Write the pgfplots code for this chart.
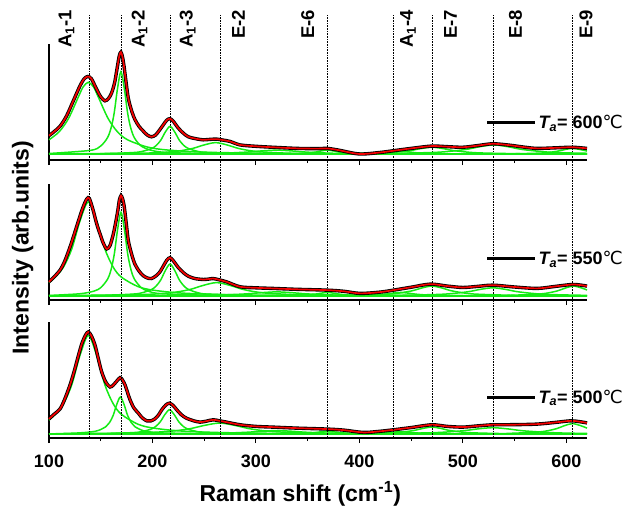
\documentclass[border=0pt]{standalone}
\usepackage{pgfplots}
\pgfplotsset{compat=1.18}
\usepackage{pgfplotstable}
\usepackage{fontspec}
\setmainfont{Liberation Sans}
\newfontfamily\symfont{DejaVu Sans}

\definecolor{fitgreen}{RGB}{20,235,20}
\definecolor{fitred}{RGB}{245,0,0}

\pgfplotsset{
  panel/.style={
    scale only axis, width=538pt, height=116pt,
    xmin=100, xmax=620, ymin=0, ymax=1,
    axis x line*=bottom, axis y line*=left,
    axis line style={line width=1.2pt},
    xtick={100,200,...,600}, minor xtick={150,250,...,550},
    ytick=\empty,
    tick align=outside,
    major tick length=5pt, minor tick length=3pt,
    xtick style={black, line width=1.1pt},
    xticklabels={},
    clip=false,
  },
  comp/.style={fitgreen, line width=1.5pt, smooth, forget plot},
  dat/.style={black, line width=3.4pt, smooth},
  fit/.style={fitred, line width=1.7pt, smooth, forget plot},
  key/.style={black, line width=3pt, forget plot},
}

% fitted curves (red)
\pgfplotstableread{
x y
100 0.21
105 0.245
110.6 0.29
117 0.38
123.5 0.51
130 0.64
134 0.70
137.5 0.72
141 0.70
146 0.61
150 0.545
154 0.51
157.5 0.53
160.6 0.58
163.5 0.67
166 0.80
168 0.90
169.5 0.93
171 0.89
172.5 0.81
174.5 0.67
176.7 0.53
180 0.42
183 0.35
187 0.29
191 0.25
195 0.215
199 0.20
203 0.215
207 0.26
211 0.31
214 0.345
217 0.356
220 0.335
225 0.275
230 0.23
234.7 0.20
241 0.185
249 0.174
256 0.178
262 0.18
268 0.172
275 0.16
284.7 0.13
300 0.118
316 0.11
340 0.10
360 0.098
369 0.10
380 0.085
400 0.052
420 0.065
433 0.08
450 0.10
470 0.12
485 0.115
500 0.11
515 0.125
529 0.14
545 0.128
560 0.11
572 0.10
590 0.105
606 0.11
620 0.10
}\fitTop

\pgfplotstableread{
x y
100 0.157
105 0.20
110.6 0.256
115 0.33
120.3 0.456
124.5 0.57
128.4 0.68
132.5 0.79
136.4 0.87
139 0.875
142.8 0.77
146 0.66
149.3 0.57
152.5 0.49
155.8 0.44
159 0.47
162.2 0.57
164.5 0.67
166.5 0.77
168 0.86
169.6 0.90
171.2 0.87
172.8 0.80
174.8 0.65
176.7 0.51
180 0.39
183 0.31
187 0.25
191 0.21
195 0.19
199 0.185
203 0.205
207 0.24
211 0.30
214 0.345
217 0.365
220 0.34
225 0.28
230 0.235
234.7 0.205
241 0.185
249 0.177
254 0.18
258.6 0.185
264 0.175
271.5 0.157
284.7 0.114
300 0.105
316 0.10
340 0.092
369 0.085
385 0.075
400.8 0.057
420 0.068
433 0.085
450 0.11
468.6 0.137
485 0.12
500 0.108
515 0.118
529 0.128
550 0.112
572 0.10
590 0.118
607 0.134
620 0.12
}\fitMid

\pgfplotstableread{
x y
100 0.165
105 0.205
110.6 0.25
115 0.33
120.3 0.457
124.5 0.58
128.4 0.71
132 0.82
135.5 0.89
138 0.914
141 0.88
144.5 0.80
147.5 0.69
150.9 0.57
155 0.48
159 0.44
162 0.455
164.5 0.48
168.7 0.52
171 0.50
173.5 0.457
176 0.39
178.3 0.33
182 0.26
186.4 0.214
190 0.175
194.5 0.148
198.5 0.148
202.5 0.166
206 0.20
209 0.243
213 0.285
216.4 0.30
220 0.28
223.5 0.243
228 0.20
233 0.17
240 0.148
246 0.137
252 0.145
258.6 0.157
265 0.148
271.5 0.137
284.7 0.114
300 0.10
316 0.094
340 0.085
369 0.077
385 0.068
404 0.048
420 0.058
433 0.071
450 0.09
470 0.114
485 0.10
500 0.094
515 0.105
529 0.114
550 0.115
572 0.12
590 0.135
604 0.148
612 0.142
620 0.13
}\fitBot

\begin{document}
\begin{tikzpicture}
\useasboundingbox (0,0) rectangle (628pt,515pt);

% ---------- bottom panel: Ta = 500 C ----------
\begin{axis}[panel, at={(49pt,77pt)}, anchor=south west,
    xticklabels={100,200,300,400,500,600},
    /pgf/number format/assume math mode=true,
    xticklabel style={font=\fontsize{18}{18}\selectfont\bfseries, yshift=-8pt},
    xlabel={Raman shift (cm\textsuperscript{-1})},
    xlabel style={font=\fontsize{23}{23}\selectfont\bfseries,
        at={(axis description cs:0.467,-0.48)}, anchor=center},
  ]
  \addplot[comp, line width=2.2pt] coordinates {(100,0.034) (620,0.034)};
  \addplot[comp] coordinates {(100,0.155) (106,0.204) (114,0.296) (122,0.459) (130,0.714) (138,0.884) (146,0.714) (154,0.459) (162,0.296) (170,0.204) (186,0.119) (202,0.084) (234,0.057) (298,0.042) (450,0.036) (620,0.035)};
  \addplot[comp] coordinates {(100,0.035) (127,0.043) (141,0.053) (148,0.066) (155,0.098) (158.5,0.133) (162,0.194) (165.5,0.29) (169,0.354) (172.5,0.29) (176,0.194) (179.5,0.133) (183,0.098) (190,0.066) (197,0.053) (211,0.043) (260,0.036)};
  \addplot[comp] coordinates {(100,0.035) (150,0.0378) (180.5,0.0463) (189.5,0.055) (198.5,0.076) (203,0.0987) (207.5,0.139) (212,0.202) (216.5,0.244) (221,0.202) (225.5,0.139) (230,0.0987) (234.5,0.076) (243.5,0.055) (252.5,0.0463) (290,0.0378)};
  \addplot[comp] coordinates {(100,0.0355) (181,0.0435) (209,0.053) (223,0.0633) (237,0.0815) (251,0.11) (265,0.129) (279,0.11) (293,0.0815) (307,0.0633) (321,0.053) (349,0.0435) (377,0.0396) (433,0.0366) (620,0.035)};
  \addplot[comp] coordinates {(200,0.0358) (260,0.04) (290,0.049) (305,0.058) (320,0.064) (335,0.058) (350,0.049) (380,0.04) (440,0.0358)};
  \addplot[comp] coordinates {(321,0.0355) (345,0.039) (357,0.0465) (363,0.054) (369,0.059) (375,0.054) (381,0.0465) (393,0.039) (417,0.0355)};
  \addplot[comp] coordinates {(380,0.0352) (410,0.038) (425,0.044) (432.5,0.05) (440,0.054) (447.5,0.05) (455,0.044) (470,0.038) (500,0.0352)};
  \addplot[comp] coordinates {(398,0.0375) (434,0.046) (452,0.064) (461,0.082) (470,0.094) (479,0.082) (488,0.064) (506,0.046) (542,0.0375)};
  \addplot[comp] coordinates {(409,0.0372) (469,0.045) (499,0.0615) (514,0.078) (529,0.089) (544,0.078) (559,0.0615) (589,0.045) (620,0.0394)};
  \addplot[comp] coordinates {(542,0.0393) (574,0.052) (590,0.079) (598,0.106) (606,0.124) (614,0.106) (620,0.085)};
  \addplot[dat, forget plot] table {\fitBot};
  \addplot[fit] table {\fitBot};
  \addplot[key] coordinates {(523.6,0.35) (570,0.35)};
  \node[anchor=base west, inner sep=0pt, font=\fontsize{18}{18}\selectfont\bfseries]
    at (axis cs:573,0.30) {\itshape T\textsubscript{a}\upshape= 500{\symfont\mdseries ℃}};
  % peak positions
  \draw[black, densely dotted, line width=0.6pt]
    (axis cs:139,0) -- (axis cs:139,3.65)
    (axis cs:170,0) -- (axis cs:170,3.65)
    (axis cs:217,0) -- (axis cs:217,3.65)
    (axis cs:266,0) -- (axis cs:266,3.65)
    (axis cs:369,0) -- (axis cs:369,3.65)
    (axis cs:433,0) -- (axis cs:433,3.65)
    (axis cs:470,0) -- (axis cs:470,3.65)
    (axis cs:529,0) -- (axis cs:529,3.65)
    (axis cs:606,0) -- (axis cs:606,3.65);
  \begin{scope}[every node/.style={rotate=90, anchor=east, inner sep=0pt,
      font=\fontsize{18.5}{18.5}\selectfont\bfseries}]
    \node at (axis cs:117,3.69) {A\textsubscript{1}-1};
    \node at (axis cs:187.5,3.69) {A\textsubscript{1}-2};
    \node at (axis cs:234,3.69) {A\textsubscript{1}-3};
    \node at (axis cs:283,3.69) {E-2};
    \node at (axis cs:350,3.69) {E-6};
    \node at (axis cs:447,3.69) {A\textsubscript{1}-4};
    \node at (axis cs:488,3.69) {E-7};
    \node at (axis cs:551,3.69) {E-8};
    \node at (axis cs:619,3.69) {E-9};
  \end{scope}
\end{axis}

% ---------- middle panel: Ta = 550 C ----------
\begin{axis}[panel, at={(49pt,215pt)}, anchor=south west,
    ylabel={Intensity (arb.units)},
    ylabel style={font=\fontsize{23}{23}\selectfont\bfseries,
        at={(axis description cs:-0.049,0.45)}, anchor=center},
  ]
  \addplot[comp, line width=2.2pt] coordinates {(100,0.035) (620,0.035)};
  \addplot[comp] coordinates {(100,0.15) (106,0.197) (114,0.284) (122,0.44) (130,0.683) (138,0.845) (146,0.683) (154,0.44) (162,0.284) (170,0.197) (186,0.116) (202,0.083) (234,0.057) (298,0.043) (450,0.037) (620,0.036)};
  \addplot[comp] coordinates {(100,0.039) (130,0.054) (143.6,0.077) (150.1,0.107) (156.6,0.179) (159.85,0.257) (163.1,0.395) (166.35,0.611) (169.6,0.755) (172.85,0.611) (176.1,0.395) (179.35,0.257) (182.6,0.179) (189.1,0.107) (195.6,0.077) (209,0.054) (260,0.039)};
  \addplot[comp] coordinates {(100,0.036) (150,0.04) (181,0.051) (190,0.0625) (199,0.09) (203.5,0.12) (208,0.1725) (212.5,0.255) (217,0.31) (221.5,0.255) (226,0.1725) (230.5,0.12) (235,0.09) (244,0.0625) (253,0.051) (290,0.04)};
  \addplot[comp] coordinates {(100,0.037) (187,0.0465) (212,0.058) (224.5,0.0704) (237,0.0925) (249.5,0.127) (262,0.15) (274.5,0.127) (287,0.0925) (299.5,0.0704) (312,0.058) (337,0.0465) (362,0.0418) (412,0.0381) (620,0.036)};
  \addplot[comp] coordinates {(200,0.037) (260,0.042) (290,0.0525) (305,0.063) (320,0.07) (335,0.063) (350,0.0525) (380,0.042) (440,0.037)};
  \addplot[comp] coordinates {(321,0.0368) (345,0.041) (357,0.05) (363,0.059) (369,0.065) (375,0.059) (381,0.05) (393,0.041) (417,0.0368)};
  \addplot[comp] coordinates {(380,0.0368) (410,0.041) (425,0.05) (432.5,0.059) (440,0.065) (447.5,0.059) (455,0.05) (470,0.041) (500,0.0368)};
  \addplot[comp] coordinates {(390,0.04) (430,0.052) (450,0.0775) (460,0.103) (470,0.12) (480,0.103) (490,0.0775) (510,0.052) (550,0.04)};
  \addplot[comp] coordinates {(429,0.039) (479,0.049) (504,0.07) (516.5,0.091) (529,0.105) (541.5,0.091) (554,0.07) (579,0.049) (620,0.04)};
  \addplot[comp] coordinates {(543,0.04) (575,0.052) (591,0.0775) (599,0.103) (607,0.12) (615,0.103) (620,0.086)};
  \addplot[dat, forget plot] table {\fitMid};
  \addplot[fit] table {\fitMid};
  \addplot[key] coordinates {(523.6,0.356) (570,0.356)};
  \node[anchor=base west, inner sep=0pt, font=\fontsize{18}{18}\selectfont\bfseries]
    at (axis cs:573,0.306) {\itshape T\textsubscript{a}\upshape= 550{\symfont\mdseries ℃}};
\end{axis}

% ---------- top panel: Ta = 600 C ----------
\begin{axis}[panel, at={(49pt,355pt)}, anchor=south west]
  \addplot[comp, line width=2.2pt] coordinates {(100,0.05) (620,0.05)};
  \addplot[comp] coordinates {(100,0.174) (110,0.245) (119,0.36) (128.5,0.546) (133,0.63) (138,0.67) (143,0.63) (147.5,0.546) (157,0.36) (166,0.245) (176,0.174) (195,0.112) (214,0.0865) (252,0.067) (328,0.056) (450,0.052) (620,0.051)};
  \addplot[comp] coordinates {(100,0.056) (140,0.083) (150,0.121) (156.5,0.192) (160,0.276) (163,0.405) (166.25,0.618) (169.5,0.76) (172.75,0.618) (176,0.405) (179,0.276) (182.5,0.192) (189,0.121) (199,0.083) (215,0.064) (260,0.054)};
  \addplot[comp] coordinates {(100,0.051) (150,0.054) (181,0.064) (190,0.074) (199,0.098) (203.5,0.124) (208,0.17) (212.5,0.242) (217,0.29) (221.5,0.242) (226,0.17) (230.5,0.124) (235,0.098) (244,0.074) (253,0.064) (290,0.054)};
  \addplot[comp] coordinates {(100,0.052) (195,0.06) (217,0.07) (228,0.081) (239,0.10) (250,0.13) (261,0.15) (272,0.13) (283,0.10) (294,0.081) (305,0.07) (327,0.06) (349,0.056) (400,0.052) (620,0.051)};
  \addplot[comp] coordinates {(200,0.052) (260,0.057) (290,0.0675) (305,0.078) (320,0.085) (335,0.078) (350,0.0675) (380,0.057) (440,0.052)};
  \addplot[comp] coordinates {(321,0.052) (345,0.057) (357,0.0675) (363,0.078) (369,0.085) (375,0.078) (381,0.0675) (393,0.057) (417,0.052)};
  \addplot[comp] coordinates {(380,0.0515) (410,0.055) (425,0.0625) (432.5,0.07) (440,0.075) (447.5,0.07) (455,0.0625) (470,0.055) (500,0.0515)};
  \addplot[comp] coordinates {(382,0.0535) (426,0.062) (448,0.08) (459,0.098) (470,0.11) (481,0.098) (492,0.08) (514,0.062) (558,0.0535)};
  \addplot[comp] coordinates {(418,0.0547) (474,0.066) (502,0.09) (516,0.114) (530,0.13) (544,0.114) (558,0.09) (586,0.066) (620,0.058)};
  \addplot[comp] coordinates {(546,0.053) (576,0.06) (591,0.075) (598.5,0.09) (606,0.10) (613.5,0.09) (620,0.077)};
  \addplot[dat, forget plot] table {\fitTop};
  \addplot[fit] table {\fitTop};
  \addplot[key] coordinates {(523.6,0.32) (570,0.32)};
  \node[anchor=base west, inner sep=0pt, font=\fontsize{18}{18}\selectfont\bfseries]
    at (axis cs:573,0.27) {\itshape T\textsubscript{a}\upshape= 600{\symfont\mdseries ℃}};
\end{axis}
\end{tikzpicture}
\end{document}
